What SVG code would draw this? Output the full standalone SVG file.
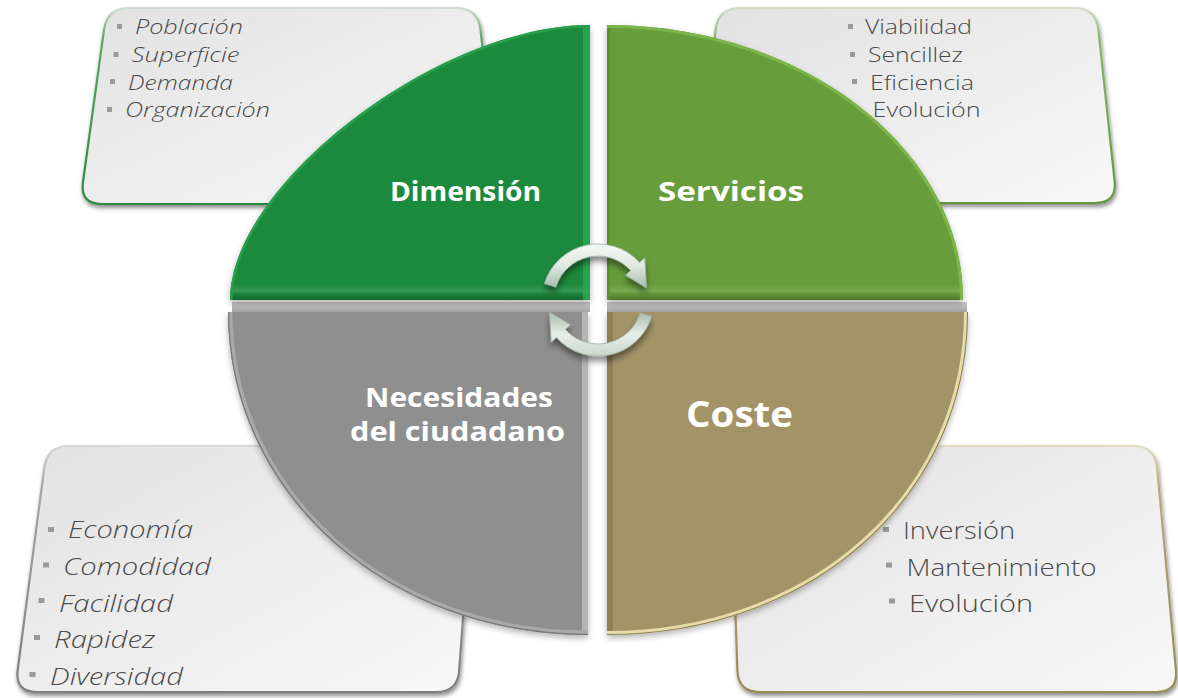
<svg xmlns="http://www.w3.org/2000/svg" width="1178" height="698" viewBox="0 0 1178 698">
<defs>
<style>
.lbl{font-family:"Open Sans","Liberation Sans",sans-serif;font-weight:700;fill:#ffffff;text-anchor:middle}
.it{font-family:"Open Sans","Liberation Sans",sans-serif;font-weight:300;font-style:italic;fill:#4a4a4a}
.nm{font-family:"Open Sans","Liberation Sans",sans-serif;font-weight:300;fill:#4a4a4a}
.bul{fill:#9a9a9a}
.box{stroke-width:2.2;filter:url(#boxSh)}
</style>
<filter id="boxSh" x="-10%" y="-10%" width="120%" height="130%"><feDropShadow dx="1" dy="3" stdDeviation="2.2" flood-color="#000" flood-opacity="0.45"/></filter>
<filter id="quadSh" x="-10%" y="-10%" width="120%" height="130%"><feDropShadow dx="0" dy="3" stdDeviation="3" flood-color="#000" flood-opacity="0.3"/></filter>
<filter id="arSh" x="-30%" y="-30%" width="160%" height="180%"><feDropShadow dx="0" dy="5" stdDeviation="3" flood-color="#000" flood-opacity="0.45"/></filter>
<linearGradient id="boxFill" x1="0" y1="0" x2="1" y2="1"><stop offset="0" stop-color="#e2e2e2"/><stop offset="1" stop-color="#f8f8f8"/></linearGradient>
<linearGradient id="bGreen" x1="0" y1="0" x2="0" y2="1"><stop offset="0" stop-color="#cfdccf"/><stop offset="0.15" stop-color="#5aa866"/><stop offset="1" stop-color="#2a8c3c"/></linearGradient>
<linearGradient id="bGreen2" x1="0" y1="0" x2="0" y2="1"><stop offset="0" stop-color="#d4dec8"/><stop offset="0.15" stop-color="#8ab866"/><stop offset="1" stop-color="#5f9a35"/></linearGradient>
<linearGradient id="bGray" x1="0" y1="0" x2="0" y2="1"><stop offset="0" stop-color="#d8d8d8"/><stop offset="0.15" stop-color="#a8a8a8"/><stop offset="1" stop-color="#7d7d7d"/></linearGradient>
<linearGradient id="bKhaki" x1="0" y1="0" x2="0" y2="1"><stop offset="0" stop-color="#e2dcc6"/><stop offset="0.15" stop-color="#b8ab7c"/><stop offset="1" stop-color="#9a8b55"/></linearGradient>
<linearGradient id="botBevel" x1="0" y1="0" x2="0" y2="1"><stop offset="0" stop-color="#fff" stop-opacity="0"/><stop offset="0.45" stop-color="#fff" stop-opacity="0.12"/><stop offset="0.6" stop-color="#000" stop-opacity="0.05"/><stop offset="1" stop-color="#000" stop-opacity="0.3"/></linearGradient>
<linearGradient id="band" x1="0" y1="0" x2="0" y2="1"><stop offset="0" stop-color="#c8c8c8"/><stop offset="1" stop-color="#a9a9a9"/></linearGradient>
<linearGradient id="arFill" x1="0" y1="0" x2="0" y2="1"><stop offset="0" stop-color="#f4f8f4"/><stop offset="0.5" stop-color="#dfe9e1"/><stop offset="1" stop-color="#a9bbae"/></linearGradient>
<linearGradient id="arFill2" x1="0" y1="1" x2="0" y2="0"><stop offset="0" stop-color="#c9d6cc"/><stop offset="0.5" stop-color="#e6eee8"/><stop offset="1" stop-color="#a9bbae"/></linearGradient>
<clipPath id="cTL"><path d="M 590 25 L 590 300 L 230 300 C 230 184.5 438.8 25 590 25 Z"/></clipPath>
<clipPath id="cTR"><path d="M 607 25 C 802.8 25 963 148.75 963 300 L 607 300 Z"/></clipPath>
<clipPath id="cBL"><path d="M 228 312 L 588 312 L 588 635 C 386.4 635 228 492.9 228 312 Z"/></clipPath>
<clipPath id="cBR"><path d="M 607 312 L 968 312 C 968 496.1 812.8 635 607 635 Z"/></clipPath>
</defs>
<rect width="1178" height="698" fill="#ffffff"/>

<g id="box-dimension">
<path class="box" fill="url(#boxFill)" stroke="url(#bGreen)" d="M 129 8 L 456 8 Q 478 8 480.5 30 L 497.5 182 Q 500 204 478 204 L 102 204 Q 80 204 83 182 L 104 30 Q 107 8 129 8 Z"/>
<rect class="bul" x="117" y="24" width="5" height="5"/><text class="it" x="135" y="34" font-size="20" textLength="108" lengthAdjust="spacingAndGlyphs">Población</text>
<rect class="bul" x="113.5" y="52" width="5" height="5"/><text class="it" x="131.5" y="62" font-size="20" textLength="108" lengthAdjust="spacingAndGlyphs">Superficie</text>
<rect class="bul" x="110" y="79" width="5" height="5"/><text class="it" x="128" y="90" font-size="20" textLength="105" lengthAdjust="spacingAndGlyphs">Demanda</text>
<rect class="bul" x="107" y="107" width="5" height="5"/><text class="it" x="125" y="117" font-size="20" textLength="145" lengthAdjust="spacingAndGlyphs">Organización</text>
</g>

<g id="box-servicios">
<path class="box" fill="url(#boxFill)" stroke="url(#bGreen2)" d="M 740 8 L 1074 8 Q 1096 8 1098.4 30 L 1114.6 181 Q 1117 203 1095 203 L 720 203 Q 698 203 700.4 181 L 715.6 30 Q 718 8 740 8 Z"/>
<rect class="bul" x="848" y="24" width="5" height="5"/><text class="nm" x="865" y="34" font-size="20" textLength="107" lengthAdjust="spacingAndGlyphs">Viabilidad</text>
<rect class="bul" x="850" y="52" width="5" height="5"/><text class="nm" x="868" y="62" font-size="20" textLength="95" lengthAdjust="spacingAndGlyphs">Sencillez</text>
<rect class="bul" x="852" y="79" width="5" height="5"/><text class="nm" x="870" y="90" font-size="20" textLength="104" lengthAdjust="spacingAndGlyphs">Eficiencia</text>
<rect class="bul" x="854" y="107" width="5" height="5"/><text class="nm" x="872.5" y="117" font-size="20" textLength="108" lengthAdjust="spacingAndGlyphs">Evolución</text>
</g>

<g id="box-necesidades">
<path class="box" fill="url(#boxFill)" stroke="url(#bGray)" d="M 69 446 L 453 446 Q 475 446 473.8 468 L 459.2 670 Q 458 692 436 692 L 37 692 Q 15 692 17.7 670 L 44.3 468 Q 47 446 69 446 Z"/>
<rect class="bul" x="48" y="527" width="6" height="5"/><text class="it" x="68" y="538" font-size="24" textLength="125" lengthAdjust="spacingAndGlyphs">Economía</text>
<rect class="bul" x="43" y="562.5" width="6" height="5"/><text class="it" x="63" y="575" font-size="24" textLength="148" lengthAdjust="spacingAndGlyphs">Comodidad</text>
<rect class="bul" x="38.5" y="598" width="6" height="5"/><text class="it" x="59" y="611.5" font-size="24" textLength="114" lengthAdjust="spacingAndGlyphs">Facilidad</text>
<rect class="bul" x="34" y="635" width="6" height="5"/><text class="it" x="54" y="648" font-size="24" textLength="101" lengthAdjust="spacingAndGlyphs">Rapidez</text>
<rect class="bul" x="29.5" y="672" width="6" height="5"/><text class="it" x="50" y="685" font-size="24" textLength="133" lengthAdjust="spacingAndGlyphs">Diversidad</text>
</g>

<g id="box-coste">
<path class="box" fill="url(#boxFill)" stroke="url(#bKhaki)" d="M 752 446 L 1133 446 Q 1155 446 1157.1 468 L 1175.9 670 Q 1178 692 1156 692 L 760 692 Q 738 692 737.4 670 L 730.6 468 Q 730 446 752 446 Z"/>
<rect class="bul" x="883" y="527" width="6" height="5"/><text class="nm" x="903" y="539" font-size="24" textLength="112" lengthAdjust="spacingAndGlyphs">Inversión</text>
<rect class="bul" x="886" y="562.5" width="6" height="5"/><text class="nm" x="906.5" y="575.5" font-size="24" textLength="190" lengthAdjust="spacingAndGlyphs">Mantenimiento</text>
<rect class="bul" x="889" y="598.5" width="6" height="5"/><text class="nm" x="909" y="611.5" font-size="24" textLength="124" lengthAdjust="spacingAndGlyphs">Evolución</text>
</g>

<rect x="232" y="302" width="358" height="10" fill="url(#band)"/>
<rect x="607" y="302" width="360" height="10" fill="url(#band)"/>

<g id="quad-dimension">
<path filter="url(#quadSh)" fill="#1a8a3c" d="M 590 25 L 590 300 L 230 300 C 230 184.5 438.8 25 590 25 Z"/>
<g clip-path="url(#cTL)">
<rect x="228" y="284" width="364" height="17" fill="url(#botBevel)"/>
<rect x="583" y="25" width="8" height="275" fill="#2bab55" opacity="0.8"/>
<path d="M 230 300 C 230 184.5 438.8 25 590 25" fill="none" stroke="#27a04c" stroke-width="5"/>
</g>
<text class="lbl" x="465.5" y="201" font-size="26" textLength="151" lengthAdjust="spacingAndGlyphs">Dimensión</text>
</g>

<g id="quad-servicios">
<path filter="url(#quadSh)" fill="#689d3b" d="M 607 25 C 802.8 25 963 148.75 963 300 L 607 300 Z"/>
<g clip-path="url(#cTR)">
<rect x="605" y="284" width="362" height="17" fill="url(#botBevel)"/>
<rect x="605" y="25" width="5" height="275" fill="#5a8d30" opacity="0.8"/>
<path d="M 607 25 C 802.8 25 963 148.75 963 300" fill="none" stroke="#7cb54a" stroke-width="6"/>
</g>
<text class="lbl" x="731" y="201" font-size="26" textLength="146" lengthAdjust="spacingAndGlyphs">Servicios</text>
</g>

<g id="quad-necesidades">
<path filter="url(#quadSh)" fill="#8f8f8f" d="M 228 312 L 588 312 L 588 635 C 386.4 635 228 492.9 228 312 Z"/>
<g clip-path="url(#cBL)">
<rect x="582" y="312" width="7" height="323" fill="#bdbdbd" opacity="0.8"/>
<path d="M 588 635 C 386.4 635 228 492.9 228 312" fill="none" stroke="#a9a9a9" stroke-width="9"/>
<path d="M 588 635 C 386.4 635 228 492.9 228 312" fill="none" stroke="#777" stroke-width="2.5"/>
</g>
<text class="lbl" x="459" y="406.5" font-size="27" textLength="188" lengthAdjust="spacingAndGlyphs">Necesidades</text>
<text class="lbl" x="457.5" y="441" font-size="27" textLength="215" lengthAdjust="spacingAndGlyphs">del ciudadano</text>
</g>

<g id="quad-coste">
<path filter="url(#quadSh)" fill="#a39468" d="M 607 312 L 968 312 C 968 496.1 812.8 635 607 635 Z"/>
<g clip-path="url(#cBR)">
<rect x="607" y="312" width="6" height="323" fill="#85784d" opacity="0.7"/>
<path d="M 968 312 C 968 496.1 812.8 635 607 635" fill="none" stroke="#e6dcaa" stroke-width="8"/>
<path d="M 968 312 C 968 496.1 812.8 635 607 635" fill="none" stroke="#8a7c4c" stroke-width="2"/>
</g>
<text class="lbl" x="739.5" y="427" font-size="36" textLength="107" lengthAdjust="spacingAndGlyphs">Coste</text>
</g>

<g id="connectors">
<path filter="url(#arSh)" fill="url(#arFill)" stroke="#9fb2a4" stroke-width="0.8" d="M 544.4 283.6 A 56 56 0 0 1 639.6 262.5 L 644.8 257.8 L 646.5 287.9 L 625.5 275.2 L 630.7 270.6 A 44 44 0 0 0 555.9 287.1 Z"/>
<path filter="url(#arSh)" fill="url(#arFill2)" stroke="#9fb2a4" stroke-width="0.8" d="M 651.6 316.4 A 56 56 0 0 1 556.4 337.5 L 551.2 342.2 L 549.5 312.1 L 570.5 324.8 L 565.3 329.4 A 44 44 0 0 0 640.1 312.9 Z"/>
</g>
</svg>
